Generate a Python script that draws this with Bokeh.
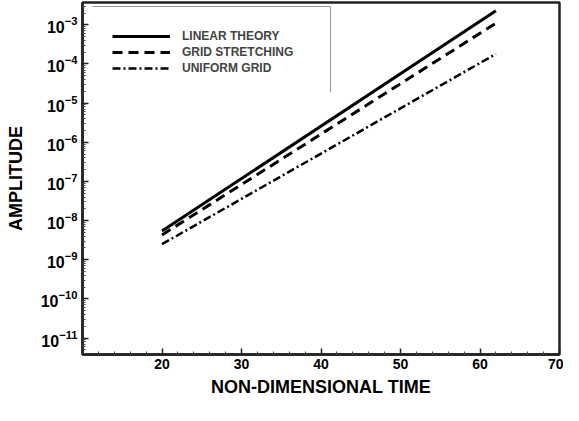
from bokeh.plotting import figure
from bokeh.models import Legend, LegendItem, FixedTicker, LogTickFormatter, Range1d
from bokeh.embed import file_html
from bokeh.resources import INLINE

# Data (amplitude vs non-dimensional time)
time = [20, 62]
linear_theory = [5.4e-9, 2.3e-3]
grid_stretching = [4.3e-9, 1.1e-3]
uniform_grid = [2.5e-9, 1.8e-4]

x_ticks = [20, 30, 40, 50, 60, 70]
x_minor = [12, 14, 16, 18, 22, 24, 26, 28, 32, 34, 36, 38, 42, 44, 46, 48,
           52, 54, 56, 58, 62, 64, 66, 68]
y_ticks = [1e-11, 1e-10, 1e-9, 1e-8, 1e-7, 1e-6, 1e-5, 1e-4, 1e-3]
y_minor = [m * t for t in [1e-12] + y_ticks for m in range(2, 10)]

# legend frame corners (decoration)
box_x = [11.26, 41.2, 41.2]
box_y = [2.93e-3, 2.93e-3, 1.87e-5]

FONT = "Liberation Sans"

p = figure(width=563, height=405, y_axis_type="log",
           x_range=Range1d(10, 70), y_range=Range1d(10 ** -11.42, 10 ** -2.43),
           output_backend="svg", toolbar_location=None,
           min_border_left=82, min_border_top=2, min_border_right=4,
           min_border_bottom=51)
p.grid.visible = False
p.outline_line_color = "#222222"
p.outline_line_width = 2.5
p.background_fill_color = "white"
p.border_fill_color = "white"

r1 = p.line(time, linear_theory, line_color="black", line_width=3)
r2 = p.line(time, grid_stretching, line_color="black", line_width=3,
            line_dash="10 6")
r3 = p.line(time, uniform_grid, line_color="black", line_width=2.5,
            line_dash="8 3 2 3")

p.line(box_x, box_y, line_color="#999999", line_width=1)

legend = Legend(items=[LegendItem(label="LINEAR THEORY", renderers=[r1]),
                       LegendItem(label="GRID STRETCHING", renderers=[r2]),
                       LegendItem(label="UNIFORM GRID", renderers=[r3])],
                location=(30, 278), glyph_width=58, glyph_height=16,
                label_height=16, spacing=0, padding=0, margin=0,
                label_standoff=12, border_line_alpha=0,
                background_fill_alpha=0,
                label_text_font=FONT, label_text_font_style="bold",
                label_text_font_size="12px")
p.add_layout(legend, "center")

for ax in (p.xaxis[0], p.yaxis[0]):
    ax.axis_line_color = "#222222"
    ax.axis_line_width = 2.5
    ax.major_tick_in = 6
    ax.major_tick_out = 0
    ax.minor_tick_in = 3
    ax.minor_tick_out = 0
    ax.major_tick_line_color = "#222222"
    ax.minor_tick_line_color = "#444444"
    ax.major_tick_line_width = 1.5
    ax.major_label_text_font = FONT
    ax.major_label_text_font_style = "bold"
    ax.major_label_text_color = "black"
    ax.axis_label_text_font = FONT
    ax.axis_label_text_font_style = "bold"
    ax.axis_label_text_font_size = "18px"
    ax.axis_label_text_color = "black"

p.xaxis.major_label_text_font_size = "14px"
p.yaxis.major_label_text_font_size = "16px"
p.xaxis.ticker = FixedTicker(ticks=x_ticks, minor_ticks=x_minor)
p.yaxis.ticker = FixedTicker(ticks=y_ticks, minor_ticks=y_minor)
p.yaxis.formatter = LogTickFormatter()
p.xaxis.axis_label = "NON-DIMENSIONAL TIME"
p.yaxis.axis_label = "AMPLITUDE"
p.xaxis.major_label_standoff = 4
p.xaxis.axis_label_standoff = 5
p.yaxis.major_label_standoff = 5
p.yaxis.axis_label_standoff = 12

open("out.html", "w").write(file_html(p, INLINE))
